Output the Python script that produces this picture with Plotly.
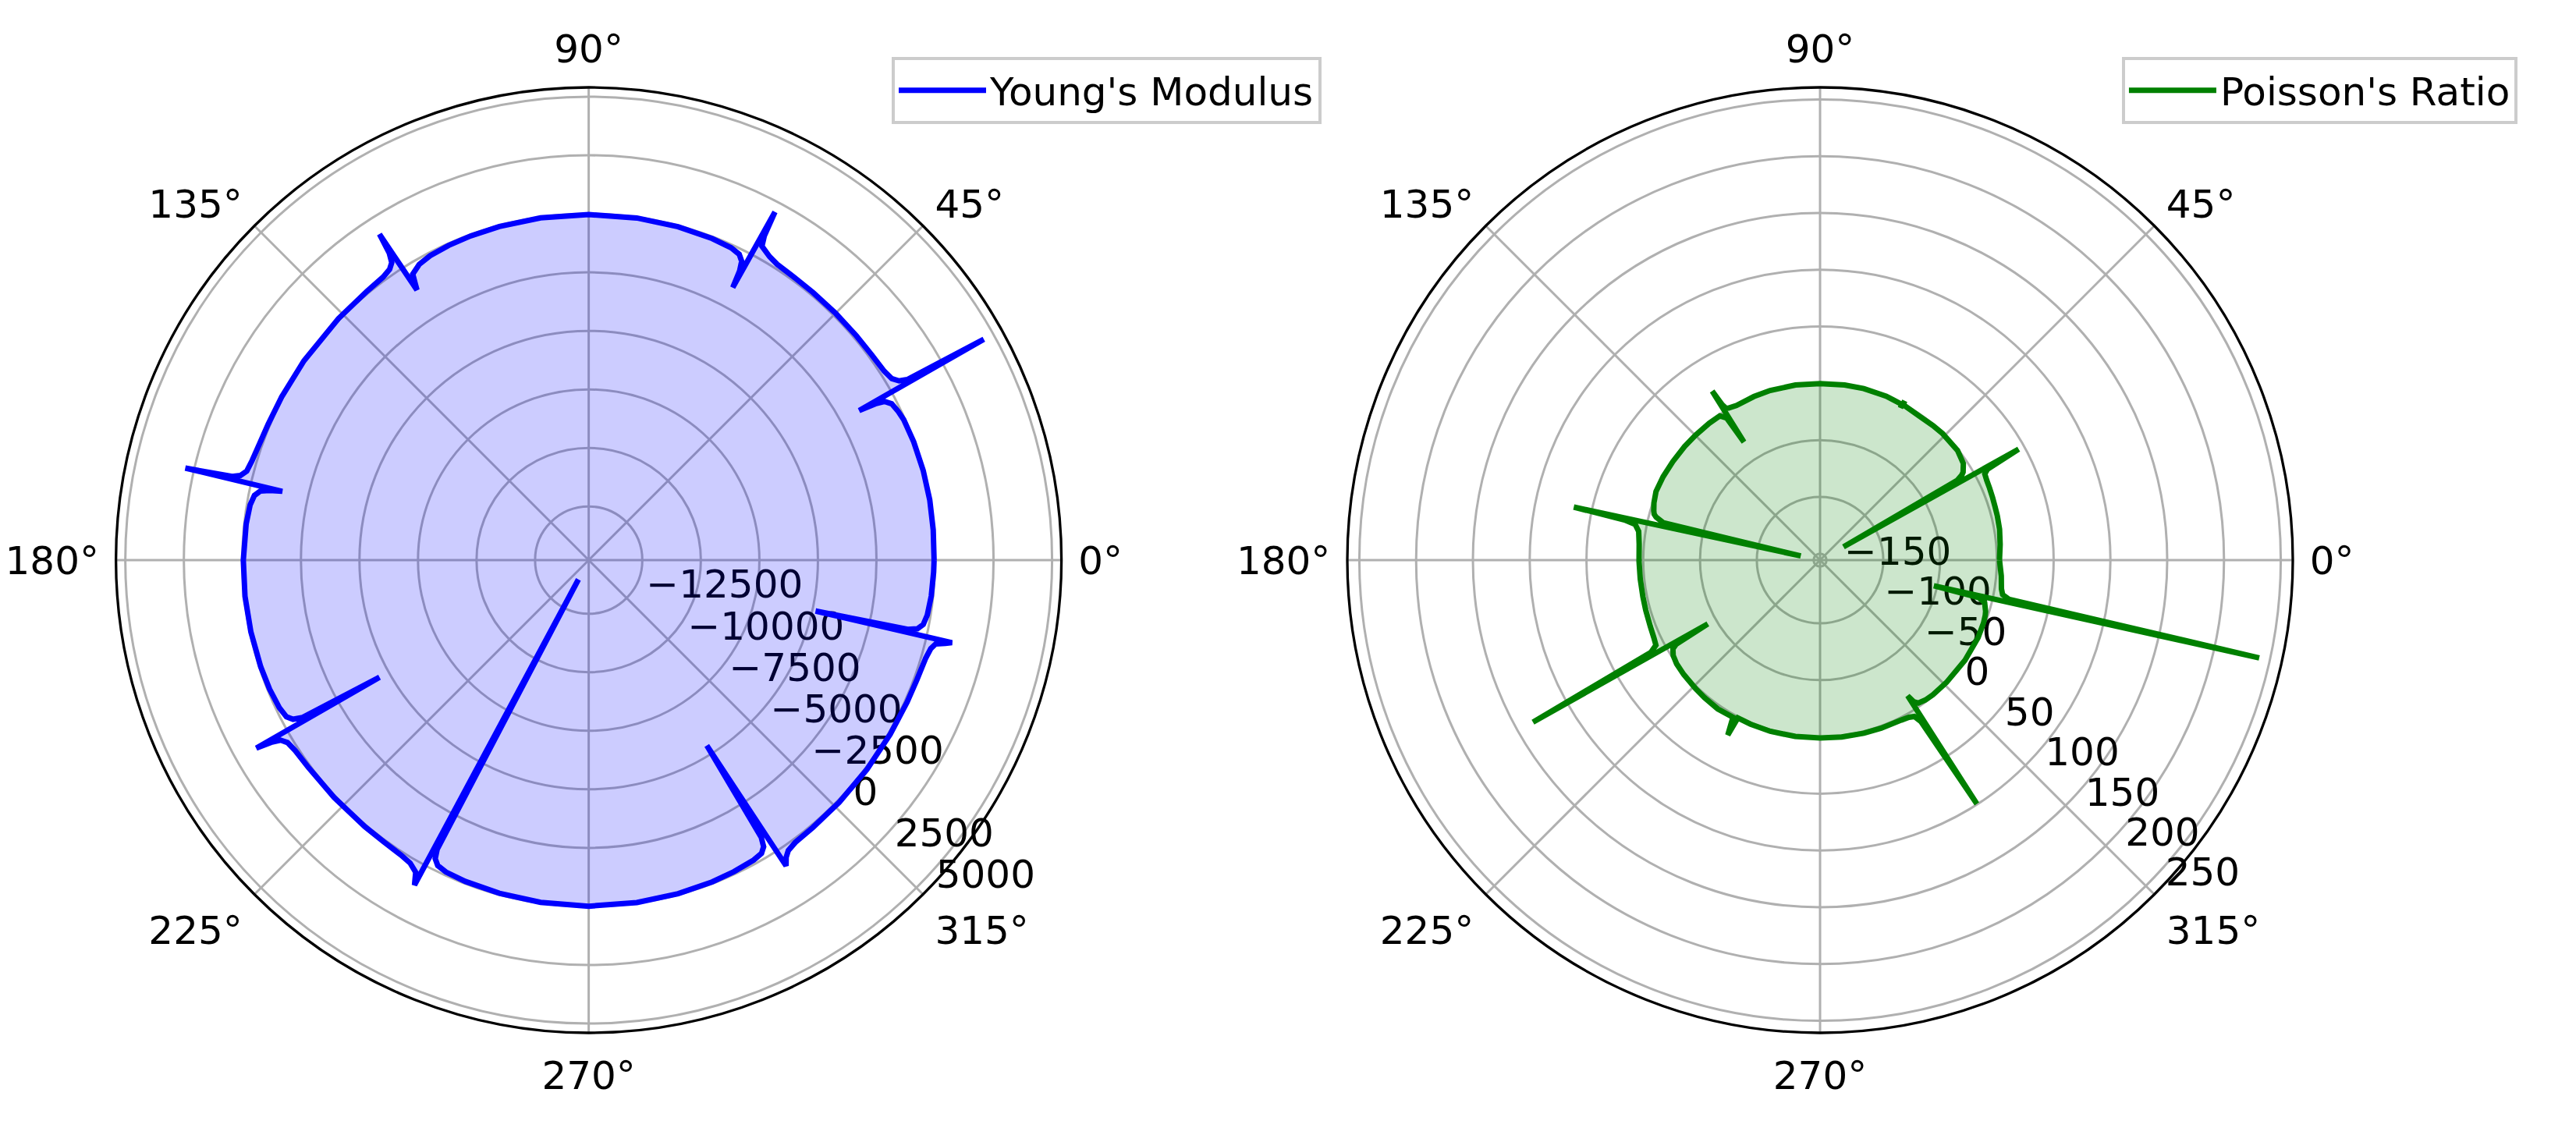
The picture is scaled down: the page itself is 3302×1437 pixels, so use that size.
import plotly.graph_objects as go

# ---------------- data ----------------
angle_ticks = [0, 45, 90, 135, 180, 225, 270, 315]
angle_labels = ["0°", "45°", "90°", "135°", "180°", "225°", "270°", "315°"]

young_ticks = [-12500, -10000, -7500, -5000, -2500, 0, 2500, 5000]
young_tick_text = ["−12500", "−10000", "−7500", "−5000", "−2500", "0", "2500", "5000"]
poisson_ticks = [-150, -100, -50, 0, 50, 100, 150, 200, 250]
poisson_tick_text = ["−150", "−100", "−50", "0", "50", "100", "150", "200", "250"]

young_theta = [0, 5, 10, 15, 20, 24, 25.6, 27.3, 28.2, 28.6, 28.95, 29.2, 29.55,
               30.0, 30.9, 32.6, 36, 40, 45, 50, 54, 57.5, 59.2, 61.1, 61.55,
               61.85, 62.15, 62.45, 62.9, 63.8, 65.5, 69, 75, 82, 90, 98, 105,
               110, 114, 117.5, 119.8, 121.6, 122.1, 122.45, 122.7, 123.0, 123.5,
               124.4, 126, 129.5, 136, 145, 152, 157, 160.5, 163.5, 165.4, 166.35,
               166.8, 167.15, 167.35, 167.7, 168.15, 169.05, 170.75, 174, 180,
               186, 192, 198, 202, 205.5, 207.4, 208.3, 208.8, 209.25, 209.5,
               209.85, 210.3, 211.2, 213, 216.5, 223, 230, 234, 237.5, 239.5,
               241.0, 241.8, 241.95, 242.35, 242.8, 243.7, 245.4, 249, 255, 262,
               270, 278, 285, 291, 295, 298.8, 300.5, 301.4, 301.9, 302.5, 302.85,
               303.6, 304.5, 306.2, 310, 316, 323, 330, 336, 340, 343.8, 345.5,
               346.4, 346.85, 347.2, 347.35, 347.75, 348.2, 349.1, 350.8, 354,
               358, 360]
young_r = [-40, -20, 0, 0, -20, -60, -120, -230, -450, -850, -1590, 4540, 850,
           520, 300, 190, 140, 125, 120, 125, 140, 190, 300, 520, 950,
           2070, -1620, -850, -450, -230, -130, -80, -50, -35, -30, -30, -40,
           -55, -80, -130, -230, -450, -850, -1120, 1750, 850, 450,
           260, 150, 95, 65, 55, 60, 80, 120, 200, 300, 520,
           850, 2880, -1380, -850, -450, -250, -140, -80, -40,
           -30, -40, -60, -90, -150, -250, -450, -850, -4550, 1520,
           850, 450, 250, 150, 100, 75, 75, 90, 140, 230,
           450, 955, -13855, -850, -450, -240, -140, -90, -60, -30,
           -10, -20, -40, -70, -110, -170, -250, -450, -850, -5400, 750,
           450, 260, 150, 110, 90, 80, 80, 100, 130, 200, 300,
           450, 850, 1120, -4860, -850, -450, -240, -140, -80,
           -50, -40]

poisson_theta = [0, 5, 9.8, 14, 17, 20, 23.1, 25.5, 27.6, 28.5, 29.2, 29.45, 30.2,
                 31.0, 31.6, 34, 38.6, 45.9, 50, 55.1, 61.8, 62.0, 62.15, 62.4, 68,
                 75.7, 82, 90, 98, 106.4, 112, 118.4, 121.0, 121.8, 122.2, 122.55,
                 122.8, 123.3, 124.8, 129, 135, 140, 146.2, 152, 157.3, 161, 163.5,
                 164.5, 165.3, 166.6, 167.75, 167.85, 168.4, 169.1, 171, 175, 180.4,
                 186, 191.6, 196, 201.3, 205, 207.4, 208.6, 209.45, 209.6, 210.3,
                 211.1, 213, 215.9, 220, 225.8, 230, 235.5, 241.0, 242.2, 242.5,
                 247, 253.8, 262, 270, 277, 284.2, 290, 296.9, 299.5, 301.1, 302.0,
                 302.75, 302.85, 303.5, 304.5, 307, 310, 315.9, 325.4, 333.9, 339,
                 341.5, 342.8, 345.5, 346.7, 347.3, 347.45, 348.3, 349.3, 351, 355,
                 360]
poisson_r = [2.3, 3.5, 4.7, 5.2, 5.4, 5.9, 6.5, 7, 8, 12, 44.6, -132, -16,
             -10, -7.8, -3.5, -0.8, -0.6, -1, -1.7, -0.5, 3, -4, -0.8, 0,
             0.2, 0, -0.3, 0, 0, -0.3, -0.9, 0.5, 1.8, 6, 20.8,
             -32, -6, -1, -0.6, -0.4, 0, 0.3, 0.8, 0.9, -1, -3,
             -4.1, -6.4, -14, -138.3, 66.1, 20, 10, 6, 4.2, 3.7,
             3.5, 3.6, 4, 4.8, 5.8, 7.1, 14, 134.6, -42, -9,
             -4.4, -1.5, 0.2, 1, 1.8, 2.5, 3.3, 2.5, 18.5, 1,
             1.2, 1.3, 1.1, 1, 1.2, 1.5, 1.8, 2.3, 3.3, 5.1, 12,
             99.5, -13.5, -6, -3, -1.5, -1, -0.8, -0.6, -0.7, -1.5,
             -2.3, -3.1, -6, -12, -53, 240.5, 14, 7.9, 6, 4.5,
             2.3]

young_range = [-14790, 5400]
poisson_range = [-155.7, 260.6]

# ---------------- styling ----------------
FONT = "DejaVu Sans"
GRID = "#b0b0b0"
FS = 50
W, H = 3286, 1421   # page has an 8px body margin around the figure

fig = go.Figure()

fig.add_trace(go.Scatterpolar(theta=young_theta, r=young_r, mode="lines",
                              fill="toself", fillcolor="rgba(0,0,255,0.2)",
                              line=dict(width=0, color="rgba(0,0,255,0)"),
                              showlegend=False, hoverinfo="skip", subplot="polar"))
fig.add_trace(go.Scatterpolar(theta=young_theta, r=young_r, mode="lines",
                              line=dict(color="blue", width=7),
                              name="Young's Modulus", subplot="polar", legend="legend"))
fig.add_trace(go.Scatterpolar(theta=poisson_theta, r=poisson_r, mode="lines",
                              fill="toself", fillcolor="rgba(0,128,0,0.2)",
                              line=dict(width=0, color="rgba(0,128,0,0)"),
                              showlegend=False, hoverinfo="skip", subplot="polar2"))
fig.add_trace(go.Scatterpolar(theta=poisson_theta, r=poisson_r, mode="lines",
                              line=dict(color="green", width=7),
                              name="Poisson's Ratio", subplot="polar2", legend="legend2"))


def polar_axes(domain_x, rng, ticks, texts):
    return dict(
        domain=dict(x=domain_x, y=[0.07389, 0.92681]),
        bgcolor="white",
        radialaxis=dict(range=rng, tickvals=ticks, ticktext=texts, showline=False,
                        ticks="", gridcolor=GRID, gridwidth=3.2, angle=-45,
                        tickangle=-45, side="counterclockwise", layer="below traces",
                        tickfont=dict(family=FONT, size=FS, color="black")),
        angularaxis=dict(direction="counterclockwise", rotation=0,
                         tickvals=angle_ticks, ticktext=angle_labels,
                         showline=True, linecolor="black", linewidth=3.3,
                         gridcolor=GRID, gridwidth=3.2, ticks="outside",
                         ticklen=10, tickcolor="rgba(0,0,0,0)",
                         layer="below traces",
                         tickfont=dict(family=FONT, size=FS, color="black")),
    )


legend_style = dict(bgcolor="white", bordercolor="#cccccc", borderwidth=4,
                    font=dict(family=FONT, size=FS, color="black"),
                    xanchor="left", yanchor="top", itemwidth=112)

fig.update_layout(
    width=W, height=H,
    margin=dict(l=0, r=0, t=0, b=0),
    paper_bgcolor="white", plot_bgcolor="white",
    font=dict(family=FONT, size=FS, color="black"),
    polar=polar_axes([0.04279, 0.41163], young_range, young_ticks, young_tick_text),
    polar2=polar_axes([0.52313, 0.89197], poisson_range, poisson_ticks, poisson_tick_text),
    legend=dict(x=0.3454, y=0.9545, **legend_style),
    legend2=dict(x=0.8253, y=0.9545, **legend_style),
)

fig.write_html("out.html")
